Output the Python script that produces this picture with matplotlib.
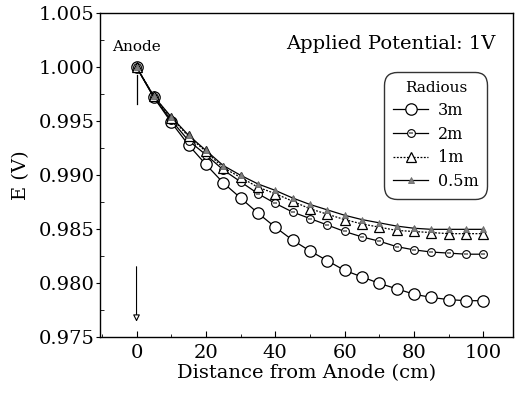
import numpy as np
import matplotlib
matplotlib.use("Agg")
import matplotlib.pyplot as plt
from matplotlib.ticker import MultipleLocator

# distance from anode (cm) and potential (V) for each radius
distance = np.arange(0, 101, 5)
E_3m = [1.0000, 0.9972, 0.9949, 0.9928, 0.9910, 0.9893, 0.9879, 0.9865, 0.9852, 0.9840, 0.9830,
        0.9821, 0.9812, 0.9806, 0.9800, 0.9795, 0.9790, 0.9787, 0.9785, 0.9784, 0.9784]
E_2m = [1.0000, 0.9972, 0.9951, 0.9932, 0.9919, 0.9905, 0.9894, 0.9883, 0.9874, 0.9866, 0.9860,
        0.9854, 0.9848, 0.9843, 0.9839, 0.9834, 0.9831, 0.9829, 0.9828, 0.9827, 0.9827]
E_1m = [1.0000, 0.9973, 0.9953, 0.9936, 0.9922, 0.9907, 0.9898, 0.9889, 0.9883, 0.9876, 0.9869,
        0.9864, 0.9859, 0.9855, 0.9852, 0.9849, 0.9848, 0.9847, 0.9846, 0.9846, 0.9846]
E_05m = [1.0000, 0.9973, 0.9954, 0.9937, 0.9923, 0.9909, 0.9900, 0.9892, 0.9886, 0.9879, 0.9873,
         0.9868, 0.9863, 0.9859, 0.9856, 0.9853, 0.9851, 0.9850, 0.9850, 0.9850, 0.9850]
labels = ["3m", "2m", "1m", "0.5m"]

plt.rcParams['font.family'] = ['DejaVu Serif']

fig = plt.figure(figsize=(5.16, 3.97), dpi=100)
ax = fig.add_axes([0.194, 0.150, 0.800, 0.817])

k = dict(color='black', lw=0.9)
l3, = ax.plot(distance, E_3m, marker='o', ms=8.2, mfc='white', mec='black', mew=0.9, **k)
l2, = ax.plot(distance, E_2m, marker='o', ms=5.6, mfc='white', mec='black', mew=0.8, **k)
l2b, = ax.plot(distance, E_2m, ls='none', marker='_', ms=3.5, mec='dimgray', mew=1.2)
l1, = ax.plot(distance, E_1m, ls=(0, (1.5, 1.2)), marker='^', ms=7.5, mfc='white', mec='black', mew=0.9, **k)
l05, = ax.plot(distance, E_05m, marker='^', ms=4.5, mfc='gray', mec='dimgray', mew=0.6, **k)

ax.set_xlim(-10.5, 108.5)
ax.set_ylim(0.975, 1.005)
ax.xaxis.set_major_locator(MultipleLocator(20))
ax.xaxis.set_minor_locator(MultipleLocator(10))
ax.yaxis.set_major_locator(MultipleLocator(0.005))
ax.yaxis.set_minor_locator(MultipleLocator(0.0025))
ax.yaxis.set_major_formatter(plt.FormatStrFormatter('%.3f'))
ax.tick_params(axis='x', which='major', direction='in', length=4, labelsize=14, pad=5)
ax.tick_params(axis='x', which='minor', direction='in', length=2.5)
ax.tick_params(axis='y', which='major', direction='out', length=3, labelsize=14, pad=1)
ax.tick_params(axis='y', which='minor', direction='in', length=3)
for s in ax.spines.values():
    s.set_linewidth(1.0)

ax.set_xlabel("Distance from Anode (cm)", fontsize=14, labelpad=1)
ax.set_ylabel("E (V)", fontsize=14, labelpad=6)

ax.text(0, 1.0019, "Anode", fontsize=11, ha='center', va='center')
ax.plot([0, 0], [0.9993, 0.9966], color='black', lw=0.9)
ax.annotate("", xy=(0, 0.9762), xytext=(0, 0.9818),
            arrowprops=dict(arrowstyle='-|>', color='black', lw=0.8,
                            mutation_scale=10, fc='white'))

ax.text(0.959, 0.905, "Applied Potential: 1V", transform=ax.transAxes,
        fontsize=14, ha='right', va='center')

leg = ax.legend([l3, (l2, l2b), l1, l05], labels, title="Radious", loc='upper right',
                bbox_to_anchor=(0.950, 0.832), fontsize=11.5, title_fontsize=11,
                frameon=True, fancybox=True, edgecolor='black', handlelength=2.2,
                handletextpad=0.6, labelspacing=0.42, borderpad=0.35)
leg.get_frame().set_linewidth(1.0)
leg.get_frame().set_boxstyle('round,pad=0.2,rounding_size=0.8')

fig.savefig("out.png", dpi=100)
